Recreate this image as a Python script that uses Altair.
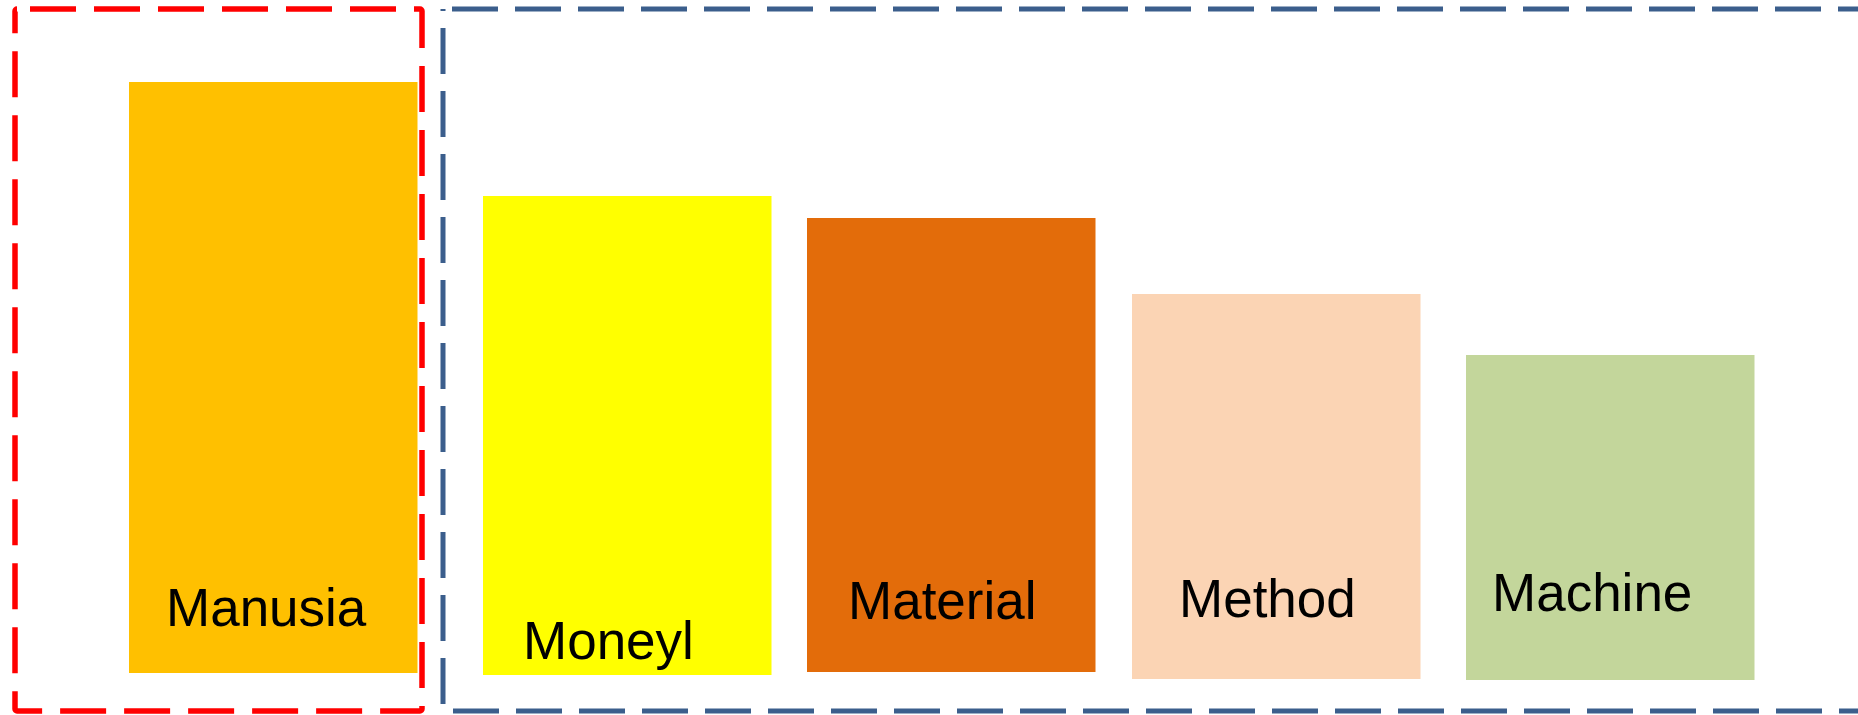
import altair as alt
import pandas as pd

# ---- data ----
categories = ["Manusia", "Moneyl", "Material", "Method", "Machine"]
values = [593, 479, 457, 381, 320]      # bar top (units = px above baseline)
bases = [2, 0, 3, -4, -5]               # bar bottom
colors = ["#FFC000", "#FFFF00", "#E36C0A", "#FBD4B4", "#C3D69B"]

# ---- layout ----
W, H = 1858, 715
bar_left = [129, 483, 807, 1132, 1466]
bar_width = 288.5
label_dx = [37, 40, 41, 47, 26]
label_y = [49, 16, 56, 58, 64]

df = pd.DataFrame({
    "cat": categories,
    "val": values,
    "base": bases,
    "color": colors,
    "x0": bar_left,
    "x1": [l + bar_width for l in bar_left],
    "lx": [l + d for l, d in zip(bar_left, label_dx)],
    "ly": label_y,
})

xs = alt.Scale(domain=[0, W], nice=False, zero=False)
ys = alt.Scale(domain=[-40, H - 40], nice=False, zero=False)

bars = alt.Chart(df).mark_bar(cornerRadius=0).encode(
    x=alt.X("x0:Q", scale=xs, axis=None),
    x2="x1:Q",
    y=alt.Y("val:Q", scale=ys, axis=None),
    y2="base:Q",
    color=alt.Color("color:N", scale=None, legend=None),
)

labels = alt.Chart(df).mark_text(
    align="left", baseline="alphabetic", font="Liberation Sans",
    fontSize=53, color="black"
).encode(
    x=alt.X("lx:Q", scale=xs, axis=None),
    y=alt.Y("ly:Q", scale=ys, axis=None),
    text="cat:N",
)

one = pd.DataFrame({"a": [0]})
red_box = alt.Chart(one).mark_rect(
    stroke="#FF0000", strokeWidth=5.5, strokeDash=[46, 18], strokeDashOffset=51,
    fillOpacity=0, cornerRadius=2
).encode(
    x=alt.value(15), x2=alt.value(422), y=alt.value(9), y2=alt.value(711)
)
blue_box = alt.Chart(one).mark_rect(
    stroke="#3B5E8C", strokeWidth=5, strokeDash=[46, 17], strokeDashOffset=54,
    fillOpacity=0
).encode(
    x=alt.value(443), x2=alt.value(1920), y=alt.value(9), y2=alt.value(711)
)

chart = alt.layer(bars, labels, red_box, blue_box).properties(
    width=W, height=H, padding=0, autosize=alt.AutoSizeParams(type="none"),
    background="white"
).configure_view(strokeWidth=0)

chart.save("out.html", embed_options={"renderer": "svg", "actions": False})
